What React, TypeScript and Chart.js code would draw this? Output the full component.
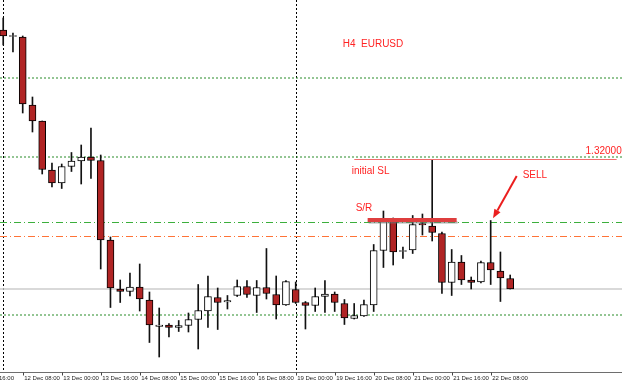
import React, { useEffect, useRef } from 'react';
import { Chart, registerables } from 'chart.js';

Chart.register(...registerables);

// H4 EURUSD candles (index 0 = 12 Dec 00:00, one bar per 4 hours)
const open = [1.3329, 1.33225, 1.3322, 1.3254, 1.3238, 1.3189, 1.3176, 1.31925, 1.3198, 1.3202,
  1.31985, 1.3119, 1.3070, 1.30675, 1.3072, 1.3059, 1.30325, 1.3034, 1.30315, 1.30335,
  1.30395, 1.3048, 1.30615, 1.3057, 1.30635, 1.30725, 1.30635, 1.30715, 1.30645, 1.3054,
  1.30695, 1.30565, 1.30535, 1.30625, 1.3065, 1.30555, 1.30405, 1.3043, 1.3054, 1.31085,
  1.31375, 1.31075, 1.3109, 1.31355, 1.3133, 1.31255, 1.30765, 1.3097, 1.3079, 1.3077,
  1.30965, 1.3088, 1.30805];
const high = [1.3341, 1.3326, 1.3323, 1.3262, 1.3238, 1.3196, 1.3195, 1.32065, 1.3214, 1.3231,
  1.3204, 1.3122, 1.3079, 1.3086, 1.3095, 1.3067, 1.3051, 1.30355, 1.30385, 1.3046,
  1.30745, 1.3083, 1.3071, 1.30635, 1.3079, 1.30785, 1.30785, 1.31105, 1.3083, 1.30785,
  1.3077, 1.30575, 1.3071, 1.30785, 1.3067, 1.30595, 1.30555, 1.3059, 1.31145, 1.3148,
  1.3141, 1.3112, 1.31435, 1.3145, 1.31995, 1.3127, 1.31095, 1.31035, 1.3082, 1.3098,
  1.31385, 1.3107, 1.3084];
const low = [1.3314, 1.3307, 1.3246, 1.3227, 1.3185, 1.3172, 1.31705, 1.31875, 1.3175, 1.31805,
  1.3090, 1.30515, 1.30565, 1.3063, 1.3048, 1.30165, 1.3002, 1.3022, 1.30275, 1.3027,
  1.3010, 1.30315, 1.30295, 1.3050, 1.30625, 1.30615, 1.30465, 1.3060, 1.3040, 1.30535,
  1.30555, 1.3030, 1.30475, 1.30465, 1.30475, 1.30345, 1.3040, 1.30425, 1.30475, 1.30915,
  1.3094, 1.31005, 1.31055, 1.3124, 1.3118, 1.30655, 1.30635, 1.30745, 1.3070, 1.3076,
  1.30745, 1.30575, 1.3070];
const close = [1.3323, 1.33225, 1.3255, 1.3238, 1.31895, 1.3176, 1.31925, 1.3198, 1.3202, 1.31985,
  1.3119, 1.3071, 1.30675, 1.3072, 1.3060, 1.3034, 1.3034, 1.30315, 1.30335, 1.30395,
  1.30485, 1.30625, 1.30565, 1.30585, 1.30725, 1.30645, 1.30715, 1.30655, 1.3054, 1.30775,
  1.30565, 1.30535, 1.30625, 1.3065, 1.30565, 1.3041, 1.30435, 1.30545, 1.31085, 1.31375,
  1.3107, 1.31075, 1.31345, 1.3134, 1.31265, 1.30765, 1.3097, 1.3079, 1.30765, 1.30965,
  1.3089, 1.3081, 1.3070];

const xLabels = ['11 Dec 16:00', '12 Dec 08:00', '13 Dec 00:00', '13 Dec 16:00', '14 Dec 08:00',
  '15 Dec 00:00', '15 Dec 16:00', '16 Dec 08:00', '19 Dec 00:00', '19 Dec 16:00',
  '20 Dec 08:00', '21 Dec 00:00', '21 Dec 16:00', '22 Dec 08:00'];
const xLabelIdx = [-2, 2, 6, 10, 14, 18, 22, 26, 30, 34, 38, 42, 46, 50];

const separatorIdx = [0, 30];
const greenDotted = [1.3281, 1.3202, 1.3044];
const greyLevel = 1.3070;
const greenDashDot = 1.31365;
const orangeDashDot = 1.31225;
const slLevel = 1.32;
const slRange = [36.01, 62.92];
const srLevel = 1.3139;
const srRange = [37.38, 46.51];

const X_MIN = -0.33;
const X_MAX = 63.47;
const Y_MIN = 1.2989;
const Y_MAX = 1.3359;

const RED_TEXT = 'rgb(255,35,35)';
const FONT10 = "10px 'Liberation Sans', Arial, sans-serif";

const hLine = (y: number, color: string, dash: number[], width = 1, order = 10) => ({
  type: 'line' as const,
  data: [{ x: X_MIN, y }, { x: X_MAX, y }],
  borderColor: color,
  borderWidth: width,
  borderDash: dash,
  pointRadius: 0,
  fill: false,
  tension: 0,
  order,
});

const overlay = {
  id: 'mt4overlay',
  beforeDatasetsDraw(chart: any) {
    const { ctx, chartArea, scales } = chart;
    const xs = scales.x;
    ctx.save();
    ctx.strokeStyle = '#000';
    ctx.lineWidth = 1;
    ctx.setLineDash([2, 2]);
    separatorIdx.forEach((v) => {
      const px = Math.round(xs.getPixelForValue(v)) + 0.5;
      ctx.beginPath();
      ctx.moveTo(px, chartArea.top);
      ctx.lineTo(px, chartArea.bottom + 2);
      ctx.stroke();
    });
    ctx.restore();
  },
  afterDatasetsDraw(chart: any) {
    const { ctx, chartArea, scales } = chart;
    const xs = scales.x;
    const ys = scales.y;
    ctx.save();

    // initial SL line
    const slY = Math.round(ys.getPixelForValue(slLevel)) + 0.5;
    ctx.strokeStyle = 'rgb(240,110,110)';
    ctx.lineWidth = 1;
    ctx.beginPath();
    ctx.moveTo(xs.getPixelForValue(slRange[0]), slY);
    ctx.lineTo(xs.getPixelForValue(slRange[1]), slY);
    ctx.stroke();

    // S/R thick line with shadow
    const srY = ys.getPixelForValue(srLevel);
    ctx.lineCap = 'butt';
    ctx.strokeStyle = 'rgba(120,120,120,0.6)';
    ctx.lineWidth = 2;
    ctx.beginPath();
    ctx.moveTo(xs.getPixelForValue(srRange[0]) + 1, srY + 2.5);
    ctx.lineTo(xs.getPixelForValue(srRange[1]) + 1, srY + 2.5);
    ctx.stroke();
    ctx.strokeStyle = 'rgb(222,62,62)';
    ctx.lineWidth = 4;
    ctx.beginPath();
    ctx.moveTo(xs.getPixelForValue(srRange[0]), srY);
    ctx.lineTo(xs.getPixelForValue(srRange[1]), srY);
    ctx.stroke();

    // texts
    ctx.font = FONT10;
    ctx.fillStyle = RED_TEXT;
    ctx.textBaseline = 'middle';
    ctx.textAlign = 'left';
    ctx.fillText('H4  EURUSD', xs.getPixelForValue(34.82), ys.getPixelForValue(1.33147));
    ctx.fillText('initial SL', xs.getPixelForValue(35.74), ys.getPixelForValue(1.31873));
    ctx.fillText('SELL', xs.getPixelForValue(53.28), ys.getPixelForValue(1.31833));
    ctx.fillText('S/R', xs.getPixelForValue(36.15), ys.getPixelForValue(1.31507));
    ctx.textAlign = 'right';
    ctx.fillText('1.32000', xs.getPixelForValue(63.44), ys.getPixelForValue(1.32082));

    // SELL arrow
    const ax0 = xs.getPixelForValue(52.67), ay0 = ys.getPixelForValue(1.3183);
    const ax1 = xs.getPixelForValue(50.24), ay1 = ys.getPixelForValue(1.31407);
    const ang = Math.atan2(ay1 - ay0, ax1 - ax0);
    const headLen = 9, headW = 3.5;
    const bx = ax1 - headLen * Math.cos(ang), by = ay1 - headLen * Math.sin(ang);
    ctx.strokeStyle = 'rgb(235,30,30)';
    ctx.fillStyle = 'rgb(235,30,30)';
    ctx.lineWidth = 2;
    ctx.beginPath();
    ctx.moveTo(ax0, ay0);
    ctx.lineTo(bx, by);
    ctx.stroke();
    ctx.beginPath();
    ctx.moveTo(ax1, ay1);
    ctx.lineTo(bx + headW * Math.sin(ang), by - headW * Math.cos(ang));
    ctx.lineTo(bx - headW * Math.sin(ang), by + headW * Math.cos(ang));
    ctx.closePath();
    ctx.fill();

    // x axis
    const axisY = Math.round(chartArea.bottom + 2) + 0.5;
    ctx.strokeStyle = 'rgb(110,110,110)';
    ctx.lineWidth = 1;
    ctx.beginPath();
    ctx.moveTo(0, axisY);
    ctx.lineTo(chartArea.right, axisY);
    ctx.stroke();

    ctx.font = "6px 'Liberation Sans', Arial, sans-serif";
    ctx.fillStyle = '#1e1e1e';
    ctx.textAlign = 'left';
    ctx.textBaseline = 'top';
    xLabelIdx.forEach((v, k) => {
      const px = xs.getPixelForValue(v);
      if (px < 0) {
        const t = xLabels[k].split(' ').pop() as string;
        ctx.fillText(t, -1, axisY + 2.5);
        return;
      }
      const tx = Math.round(px) + 0.5;
      ctx.strokeStyle = '#444';
      ctx.beginPath();
      ctx.moveTo(tx, axisY);
      ctx.lineTo(tx, axisY + 3);
      ctx.stroke();
      ctx.fillText(xLabels[k], px + 1.5, axisY + 2.5);
    });
    ctx.restore();
  },
};

export default function App() {
  const ref = useRef<HTMLCanvasElement>(null);

  useEffect(() => {
    const idx = open.map((_, i) => i);
    const isBull = idx.map((i) => close[i] >= open[i]);
    const wicks = idx.map((i) => ({ x: i, y: [low[i], high[i]] }));
    const bodies = idx.map((i) => ({ x: i, y: [open[i], close[i]] }));

    const chart = new Chart(ref.current as HTMLCanvasElement, {
      type: 'bar',
      data: {
        datasets: [
          hLine(greenDotted[0], 'rgb(40,140,40)', [2, 2]),
          hLine(greenDotted[1], 'rgb(40,140,40)', [2, 2]),
          hLine(greenDotted[2], 'rgb(40,140,40)', [2, 2]),
          hLine(greyLevel, 'rgb(205,205,205)', [], 1.5),
          hLine(greenDashDot, 'rgb(60,175,60)', [7, 3, 1, 3]),
          hLine(orangeDashDot, 'rgb(255,115,55)', [7, 3, 1, 3]),
          {
            type: 'bar' as const,
            data: wicks as any,
            backgroundColor: '#111',
            borderWidth: 0,
            barThickness: 1,
            grouped: false,
            order: 5,
          },
          {
            type: 'bar' as const,
            data: bodies as any,
            backgroundColor: idx.map((i) => (isBull[i] ? '#ffffff' : 'rgb(176,36,36)')),
            borderColor: '#000',
            borderWidth: 1,
            borderSkipped: false,
            barThickness: 7,
            minBarLength: 1,
            grouped: false,
            order: 1,
          },
        ] as any,
      },
      options: {
        responsive: false,
        animation: false,
        devicePixelRatio: 1,
        layout: { padding: { left: 0, top: 0, right: 3, bottom: 10 } },
        plugins: { legend: { display: false }, tooltip: { enabled: false } },
        events: [],
        scales: {
          x: { type: 'linear', min: X_MIN, max: X_MAX, offset: false, display: false },
          y: { type: 'linear', min: Y_MIN, max: Y_MAX, display: false },
        },
      } as any,
      plugins: [overlay],
    });
    return () => chart.destroy();
  }, []);

  return (
    <div style={{ position: 'fixed', left: 0, top: 0, width: 625, height: 380, background: '#fff' }}>
      <canvas ref={ref} width={625} height={380} style={{ display: 'block', width: 625, height: 380 }} />
    </div>
  );
}
